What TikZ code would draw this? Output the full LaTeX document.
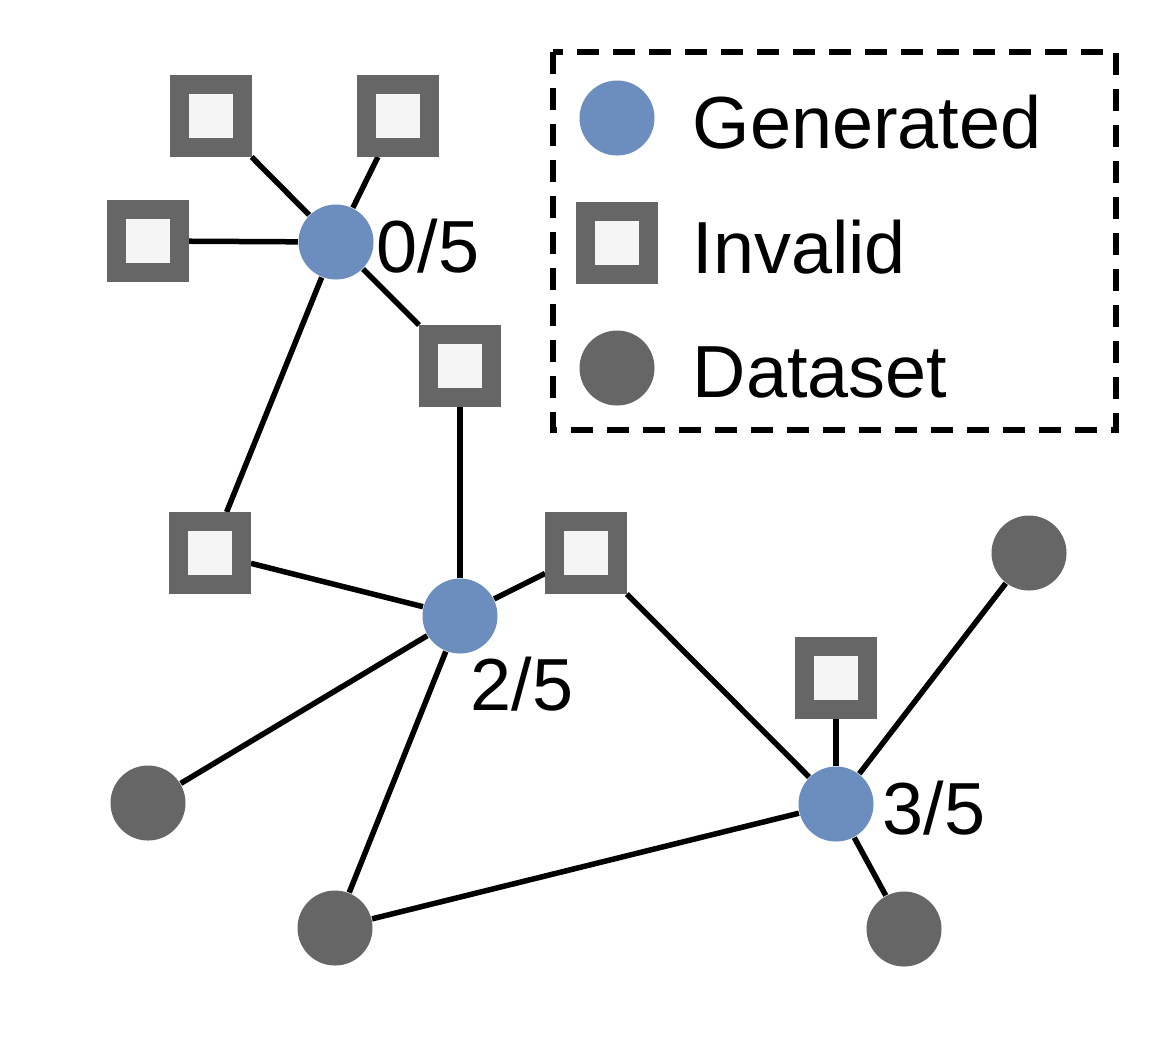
\documentclass[tikz,border=0pt]{standalone}
\usepackage{fontspec}
\setmainfont{Liberation Sans}
\usetikzlibrary{backgrounds}
\definecolor{genblue}{HTML}{6C8EBF}
\definecolor{darkgray}{HTML}{666666}
\definecolor{invfill}{HTML}{F5F5F5}
\tikzset{
  gennode/.style={circle,fill=genblue,minimum size=7.5mm,inner sep=0pt},
  datanode/.style={circle,fill=darkgray,minimum size=7.5mm,inner sep=0pt},
  invnode/.style={rectangle,draw=darkgray,line width=1.9mm,fill=invfill,minimum size=6.3mm,inner sep=0pt},
  link/.style={line width=0.55mm,draw=black},
  countlabel/.style={anchor=base west,inner sep=0pt,font=\fontsize{21}{25}\selectfont},
  legendbox/.style={line width=0.6mm,dash pattern=on 2.2mm off 1.4mm}
}

\begin{document}
\begin{tikzpicture}[x=0.1mm,y=-0.1mm]
  \useasboundingbox (0,0) rectangle (1172,1046);
  % generated molecules
  \node[gennode] (g0) at (336,242) {};
  \node[gennode] (g2) at (460,616) {};
  \node[gennode] (g3) at (836,804) {};
  % invalid ones
  \node[invnode] (i1) at (211,116) {};
  \node[invnode] (i2) at (398,116) {};
  \node[invnode] (i3) at (148,241) {};
  \node[invnode] (i4) at (460,366) {};
  \node[invnode] (i5) at (210,553) {};
  \node[invnode] (i6) at (586,553) {};
  \node[invnode] (i7) at (836,678) {};
  % dataset
  \node[datanode] (d1) at (1029,553) {};
  \node[datanode] (d2) at (148,803) {};
  \node[datanode] (d3) at (335,928) {};
  \node[datanode] (d4) at (904,929) {};
  % counts
  \node[countlabel] (c0) at (376,272) {0/5};
  \node[countlabel] (c2) at (470,710) {2/5};
  \node[countlabel] (c3) at (882,834) {3/5};
  \begin{scope}[on background layer]
    \draw[link] (g0) -- (i1);
    \draw[link] (g0) -- (i2);
    \draw[link] (g0) -- (i3);
    \draw[link] (g0) -- (i4);
    \draw[link] (g0) -- (i5);
    \draw[link] (i4) -- (g2);
    \draw[link] (i5) -- (g2);
    \draw[link] (g2) -- (i6);
    \draw[link] (g2) -- (d2);
    \draw[link] (g2) -- (d3);
    \draw[link] (i6) -- (g3);
    \draw[link] (g3) -- (i7);
    \draw[link] (g3) -- (d1);
    \draw[link] (g3) -- (d4);
    \draw[link] (g3) -- (d3);
  \end{scope}
  % legend
  \draw[legendbox] (553,52) rectangle (1116,430);
  \node[gennode] (lgen) at (617,118) {};
  \node[invnode] (linv) at (617,243) {};
  \node[datanode] (ldat) at (617,368) {};
  \node[countlabel] (tgen) at (692,148) {Generated};
  \node[countlabel] (tinv) at (692,273) {Invalid};
  \node[countlabel] (tdat) at (692,397) {Dataset};
\end{tikzpicture}
\end{document}
